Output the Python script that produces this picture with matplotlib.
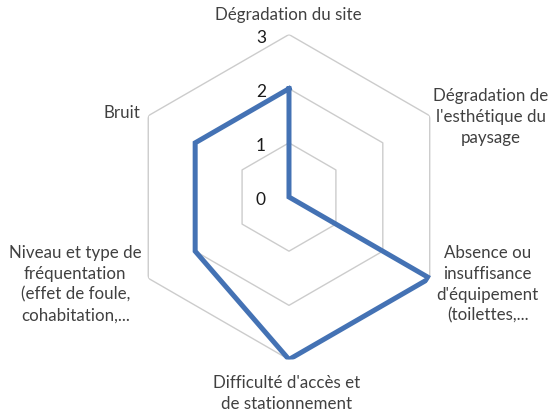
import numpy as np
import matplotlib
matplotlib.use("Agg")
import matplotlib.pyplot as plt
from matplotlib.transforms import offset_copy

categories = [
    "Dégradation du site",
    "Dégradation de\nl'esthétique du\npaysage",
    "Absence ou\ninsuffisance\nd'équipement\n(toilettes,...",
    "Difficulté d'accès et\nde stationnement",
    "Niveau et type de\nfréquentation\n(effet de foule,\ncohabitation,...",
    "Bruit",
]
values = [2, 0, 3, 3, 2, 2]
ticks = [0, 1, 2, 3]

plt.rcParams['font.family'] = ['Lato', 'DejaVu Sans']

fig = plt.figure(figsize=(5.55, 4.16), dpi=100)
fig.patch.set_facecolor('white')
ax = fig.add_axes([0.2279, 0.1358, 0.5856, 0.78125], projection='polar')
ax.set_theta_offset(np.pi / 2)
ax.set_theta_direction(-1)
ax.set_ylim(0, 3)
ax.grid(False)
ax.spines['polar'].set_visible(False)
ax.set_xticks([])
ax.set_yticks([])
ax.patch.set_alpha(0)

n = len(categories)
angles = np.linspace(0, 2 * np.pi, n, endpoint=False)
closed = np.concatenate([angles, angles[:1]])

for r in ticks[1:]:
    ax.plot(closed, [r] * (n + 1), color='#cccccc', lw=1.0, zorder=1)

vals = np.array(values + values[:1], dtype=float)
ax.plot(closed, vals, color='#4472B4', lw=3.6, solid_joinstyle='miter', zorder=3)

for t in ticks:
    tr = offset_copy(ax.transData, fig=fig, x=-28, y=-3, units='dots')
    ax.text(0, t, str(t), transform=tr, ha='center', va='center',
            fontsize=12.5, color='#1a1a1a')

offsets = [(-1, 20), (61, -1), (58, -6), (-2, -34), (-73, -6), (-26, 3)]
for ang, lab, (dx, dy) in zip(angles, categories, offsets):
    tr = offset_copy(ax.transData, fig=fig, x=dx, y=dy, units='dots')
    ax.text(ang, 3, lab, transform=tr, ha='center', va='center',
            multialignment='center', fontsize=12.2, color='#404040',
            linespacing=1.37)

fig.savefig('out.png', dpi=100, facecolor='white')
